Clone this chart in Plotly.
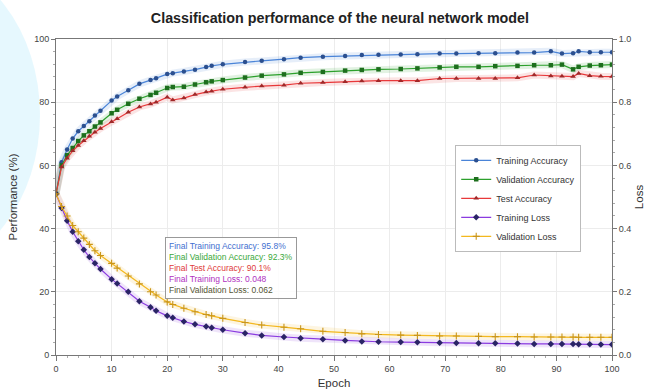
import plotly.graph_objects as go

epochs = [0, 1, 2, 3, 4, 5, 6, 7, 8, 10, 11, 13, 15, 17, 18, 20, 21, 23, 25, 27, 28, 30,
          34, 37, 41, 44, 48, 52, 55, 58, 62, 65, 69, 72, 76, 79, 83, 86, 89, 91, 93, 94,
          96, 98, 100]

train_acc = [51, 61, 65, 68.5, 70.8, 72.5, 74, 75.8, 77.3, 80.5, 81.8, 83.8, 85.8, 87, 87.6,
             88.9, 89.2, 89.7, 90.3, 91.1, 91.5, 92, 92.7, 93.1, 93.6, 94.1, 94.4, 94.6, 94.9,
             95, 95.1, 95.2, 95.4, 95.4, 95.5, 95.5, 95.7, 95.7, 96.1, 95.4, 95.5, 96.1, 95.8,
             95.8, 95.8]
val_acc = [51, 60, 63.2, 65.5, 67.7, 69.5, 70.8, 72.3, 73.6, 76.5, 77.6, 79.5, 81.1, 82.3, 83,
           84.5, 84.8, 84.9, 85.6, 86.3, 86.6, 87, 87.8, 88.4, 88.8, 89.3, 89.6, 90, 90.2, 90.4,
           90.5, 90.7, 91, 91.2, 91.2, 91.4, 91.5, 91.7, 91.7, 91.9, 90.4, 91.2, 91.6, 91.7,
           91.9]
test_acc = [51, 59.5, 62.3, 64.6, 66.3, 67.8, 69.2, 70.5, 71.7, 73.8, 74.8, 76.8, 78.5, 79.4,
            80, 81.6, 80.7, 81.3, 82.4, 83.2, 83.5, 84.1, 84.7, 85.1, 85.4, 86, 86.2, 86.5, 86.7,
            86.8, 86.8, 86.8, 87.5, 87.5, 87.5, 87.5, 87.7, 88.6, 88.3, 88.2, 88.1, 89.1, 88.4,
            88.2, 88.1]
train_loss = [0.51, 0.465, 0.425, 0.39, 0.36, 0.333, 0.31, 0.29, 0.272, 0.24, 0.226, 0.2, 0.17,
              0.151, 0.14, 0.124, 0.118, 0.106, 0.097, 0.09, 0.086, 0.08, 0.069, 0.062, 0.057,
              0.053, 0.05, 0.046, 0.043, 0.042, 0.041, 0.04, 0.039, 0.038, 0.037, 0.037, 0.036,
              0.035, 0.035, 0.035, 0.035, 0.034, 0.034, 0.033, 0.033]
val_loss = [0.51, 0.47, 0.44, 0.41, 0.39, 0.37, 0.35, 0.33, 0.315, 0.29, 0.275, 0.25, 0.225,
            0.2, 0.19, 0.168, 0.16, 0.148, 0.137, 0.128, 0.124, 0.116, 0.103, 0.095, 0.088,
            0.083, 0.075, 0.071, 0.067, 0.065, 0.063, 0.062, 0.06, 0.06, 0.059, 0.058, 0.058,
            0.057, 0.057, 0.057, 0.057, 0.056, 0.056, 0.056, 0.056]

series = [
    ("Training Accuracy", train_acc, "y", "#4a84d8", "#2b4f8f", "circle", 4.5),
    ("Validation Accuracy", val_acc, "y", "#2ca02c", "#1d6e1d", "square", 4.5),
    ("Test Accuracy", test_acc, "y", "#e8383a", "#a02828", "triangle-up", 5),
    ("Training Loss", train_loss, "y2", "#8a3be0", "#2a2466", "diamond", 5),
    ("Validation Loss", val_loss, "y2", "#f3b81f", "#c9951a", "cross-thin", 5),
]

fig = go.Figure()

# soft glow under each line
for name, vals, ax, col, mcol, sym, ms in series:
    fig.add_trace(go.Scatter(x=epochs, y=vals, yaxis=ax, mode="lines",
                             line=dict(color=col, width=7), opacity=0.13,
                             hoverinfo="skip", showlegend=False))

for name, vals, ax, col, mcol, sym, ms in series:
    fig.add_trace(go.Scatter(
        x=epochs, y=vals, yaxis=ax, mode="lines+markers", name=name,
        line=dict(color=col, width=1.2),
        marker=dict(symbol=sym, size=ms, color=mcol,
                    line=dict(color=mcol, width=1.1 if sym == "cross-thin" else 0)),
    ))

font = "Liberation Sans, Arial, sans-serif"
axcol = "#777"

fig.update_layout(
    width=645, height=389,
    margin=dict(l=56, r=33, t=39, b=34),
    paper_bgcolor="white", plot_bgcolor="white",
    font=dict(family=font, size=9, color="#444"),
    title=dict(text="<b>Classification performance of the neural network model</b>",
               x=0.527, xanchor="center", y=0.953, yanchor="middle",
               font=dict(size=14.3, color="#222")),
    xaxis=dict(range=[0, 100], tick0=0, dtick=10, showgrid=True, gridcolor="#ececec",
               showline=True, linecolor=axcol, mirror=True, ticks="outside", ticklen=5,
               tickcolor=axcol, zeroline=False, automargin=False,
               minor=dict(ticks="outside", ticklen=2, dtick=2, tickcolor="#aaa"),
               title=dict(text="Epoch", standoff=11, font=dict(size=11.5, color="#333"))),
    yaxis=dict(range=[0, 100], tick0=0, dtick=20, showgrid=True, gridcolor="#ececec",
               showline=True, linecolor=axcol, mirror=True, ticks="outside", ticklen=4,
               tickcolor=axcol, zeroline=False, automargin=False,
               minor=dict(ticks="outside", ticklen=2, dtick=4, tickcolor="#aaa"),
               title=dict(text="Performance (%)", standoff=14, font=dict(size=11.5, color="#333"))),
    yaxis2=dict(range=[0, 1], overlaying="y", side="right", tick0=0, dtick=0.2,
                tickformat=".1f", showgrid=False, showline=True, linecolor=axcol,
                ticks="outside", ticklen=4, tickcolor=axcol, zeroline=False, automargin=False,
                minor=dict(ticks="outside", ticklen=2, dtick=0.04, tickcolor="#aaa"),
                title=dict(text="Loss", standoff=14, font=dict(size=11.5, color="#333"))),
    legend=dict(x=0.718, y=0.665, xanchor="left", yanchor="top",
                bgcolor="white", bordercolor="#bbb", borderwidth=1,
                font=dict(size=9, color="#333"), itemwidth=30, tracegroupgap=2),
)

stats = [
    ("Final Training Accuracy: 95.8%", "#3f6fd0"),
    ("Final Validation Accuracy: 92.3%", "#3aa83a"),
    ("Final Test Accuracy: 90.1%", "#e03a3a"),
    ("Final Training Loss: 0.048", "#b030c0"),
    ("Final Validation Loss: 0.062", "#555533"),
]
txt = "<br>".join(f"<span style='color:{c}'>{t}</span>" for t, c in stats)
fig.add_annotation(x=0.196, y=0.373, xref="paper", yref="paper", xanchor="left",
                   yanchor="top", text=txt, showarrow=False, align="left",
                   font=dict(size=8.5, family=font), bgcolor="rgba(255,255,255,0.85)",
                   bordercolor="#999", borderwidth=1, borderpad=3)

# light cyan background blob at left edge
fig.add_shape(type="circle", xref="paper", yref="paper",
              x0=(-200 - 56) / 556, x1=(40 - 56) / 556,
              y0=(355 - 270) / 316, y1=(355 + 40) / 316,
              fillcolor="rgba(200,240,252,0.45)", line=dict(width=0), layer="below")

fig.write_html("out.html")
